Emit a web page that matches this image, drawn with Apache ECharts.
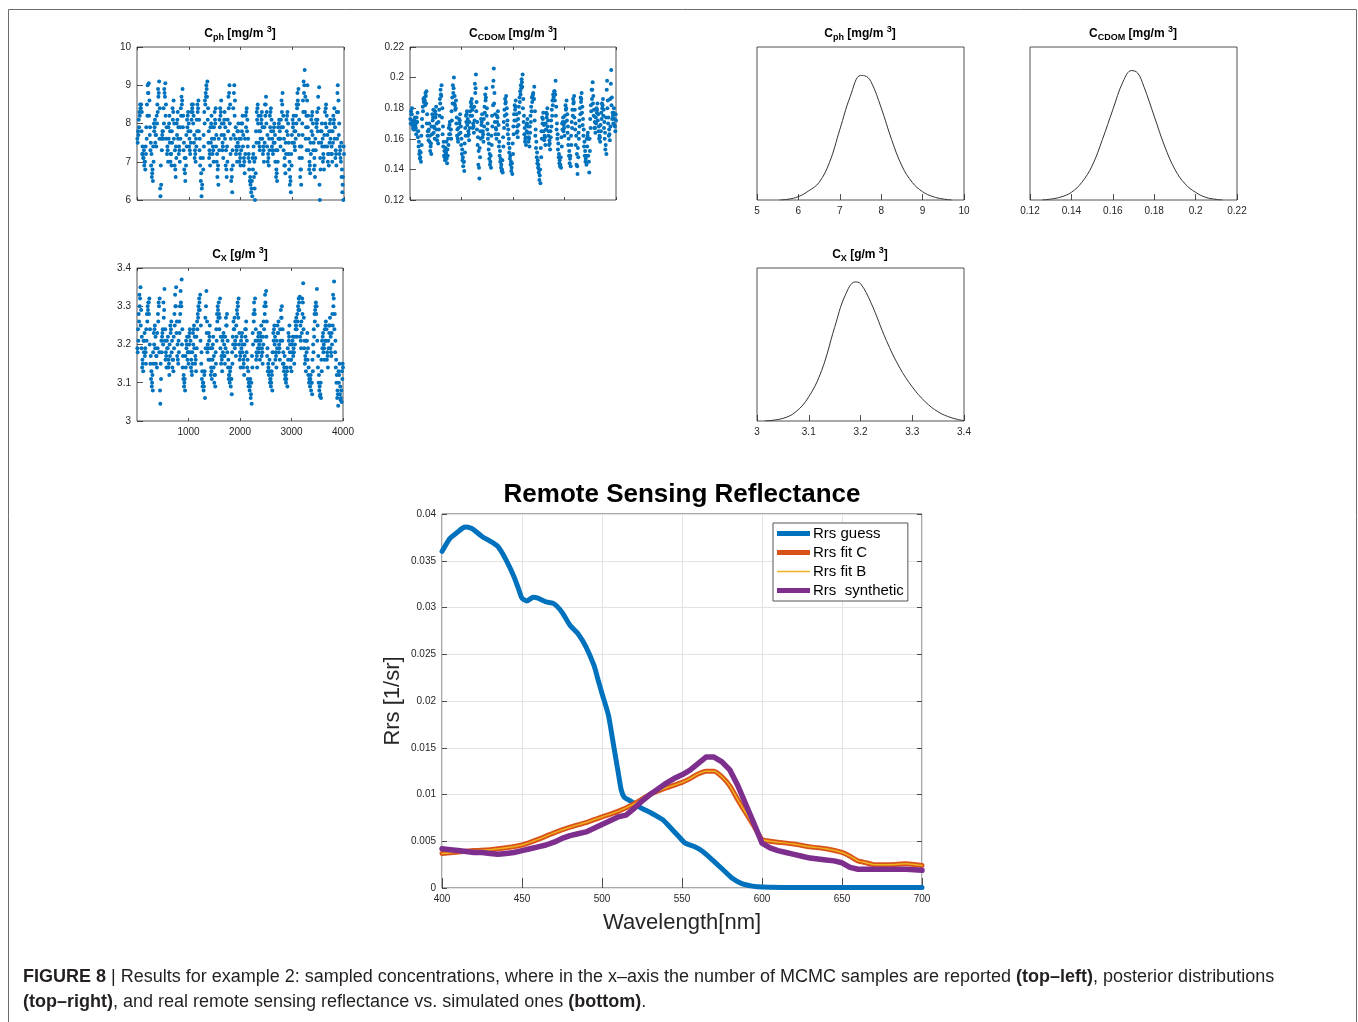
<!DOCTYPE html>
<html>
<head>
<meta charset="utf-8">
<script src="https://cdn.jsdelivr.net/npm/echarts@6/dist/echarts.min.js"></script>
<style>html,body{margin:0;padding:0;background:#fff}#chart{width:1358px;height:1022px}</style>
</head>
<body>
<div id="chart"></div>
<script>
// ---------------- MCMC samples (two interleaved readings, ~600 of the 4000) ----------------
var nSamples = 4000;
var cphSamples = [
 7.5,7.7,7.9,8.2,8.4,8.5,8.3,7.4,7.1,7.3, 7.0,6.8,7.2,7.6,8.2,8.8,9.05,8.6,7.9,7.5,
 7.2,6.7,6.5,7.0,7.8,8.1,7.7,7.4,8.0,8.3, 8.7,9.1,8.4,6.1,6.4,7.3,7.8,7.6,8.0,8.8,
 9.05,8.5,7.9,7.4,7.0,7.6,8.2,7.8,7.2,6.9, 7.5,8.1,8.6,8.0,7.3,6.6,7.1,7.7,8.3,7.9,
 7.4,7.0,7.6,8.2,8.5,8.9,8.2,7.5,7.1,6.5, 6.9,7.4,7.9,8.3,8.0,7.6,7.2,7.5,8.1,8.4,
 8.5,8.2,7.7,7.3,7.0,7.4,7.8,8.3,8.6,8.1, 7.6,7.1,6.7,6.3,5.9,6.8,7.4,8.0,8.5,8.7,
 8.9,9.1,8.4,7.8,7.3,6.9,7.5,8.2,7.9,7.4, 7.0,7.6,8.1,8.4,7.7,7.2,6.8,6.4,7.3,7.9,
 8.2,8.6,8.0,7.5,7.1,7.7,8.3,7.9,7.3,6.6, 7.0,7.8,8.4,9.0,8.5,7.6,6.8,6.2,6.9,7.7,
 9.0,8.6,7.9,7.4,7.0,7.5,8.0,7.6,7.2,6.9, 7.3,7.8,8.2,7.7,7.1,6.7,7.2,7.9,8.4,8.1,
 7.6,7.2,7.0,6.6,6.5,6.3,6.1,6.8,7.4,7.0, 6.0,6.7,7.5,8.1,8.5,8.2,7.8,7.3,7.6,8.0,
 8.3,7.9,7.4,7.0,7.5,8.2,8.7,8.3,7.7,7.2, 6.9,7.3,7.9,8.4,8.1,7.6,7.2,7.5,8.0,7.7,
 7.3,6.8,6.5,7.0,7.6,8.1,7.8,7.4,7.9,8.3, 8.8,8.2,7.6,7.1,6.7,7.2,7.8,8.3,8.0,7.5,
 7.0,6.6,6.2,6.9,7.5,7.9,8.2,7.8,7.3,7.6, 8.0,8.4,8.6,8.9,8.1,7.4,6.8,6.4,7.1,7.7,
 8.3,8.8,9.4,8.7,7.9,7.3,9.0,8.2,7.6,7.0, 6.7,7.2,7.8,8.3,8.0,7.5,7.1,6.6,7.3,7.9,
 8.3,7.8,8.4,8.95,6.0,6.8,7.5,8.0,7.6,7.2, 6.8,7.4,8.0,8.5,8.2,7.7,7.2,6.9,7.5,8.1,
 7.8,7.4,7.0,7.5,8.0,8.4,7.9,7.3,6.9,7.6, 9.0,8.6,8.0,7.4,7.1,7.5,6.8,6.4,6.0,7.2
];
var cphSamples2 = [
 7.6,7.8,8.1,8.3,8.5,8.4,7.8,7.2,7.2,7.1, 6.9,7.0,7.4,7.9,8.5,9.0,8.8,8.2,7.7,7.3,
 6.9,6.6,6.8,7.4,8.0,7.9,7.5,7.7,8.2,8.5, 8.9,8.8,7.6,6.3,6.9,7.6,7.7,7.8,8.4,8.9,
 8.7,8.2,7.6,7.2,7.3,7.9,8.0,7.5,7.0,7.2, 7.8,8.4,8.3,7.6,6.9,6.8,7.4,8.0,8.1,7.6,
 7.2,7.3,7.9,8.4,8.7,8.6,7.9,7.3,6.8,6.7, 7.1,7.7,8.1,8.2,7.8,7.4,7.3,7.8,8.3,8.5,
 8.3,8.0,7.5,7.1,7.2,7.6,8.1,8.5,8.4,7.8, 7.3,6.9,6.5,6.1,6.4,7.1,7.7,8.3,8.6,8.8,
 9.0,8.7,8.1,7.5,7.1,7.2,7.9,8.0,7.6,7.2, 7.3,7.9,8.3,8.0,7.4,7.0,6.6,6.9,7.6,8.1,
 8.4,8.3,7.7,7.3,7.4,8.0,8.1,7.6,6.9,6.8, 7.4,8.1,8.7,8.8,8.0,7.2,6.5,6.6,7.3,8.4,
 8.8,8.2,7.6,7.2,7.3,7.8,7.8,7.4,7.0,7.1, 7.6,8.0,8.0,7.4,6.9,7.0,7.6,8.2,8.3,7.8,
 7.4,7.1,6.8,6.5,6.4,6.2,6.5,7.1,7.2,6.6, 6.3,7.1,7.8,8.3,8.4,8.0,7.5,7.4,7.8,8.2,
 8.1,7.6,7.2,7.3,7.9,8.5,8.5,8.0,7.4,7.0, 7.1,7.6,8.2,8.3,7.8,7.4,7.3,7.8,7.9,7.5,
 7.0,6.6,6.7,7.3,7.9,8.0,7.6,7.6,8.1,8.6, 8.5,7.9,7.3,6.9,6.9,7.5,8.1,8.2,7.7,7.2,
 6.8,6.4,6.5,7.2,7.7,8.1,8.0,7.5,7.4,7.8, 8.2,8.5,8.8,8.5,7.7,7.1,6.6,6.8,7.4,8.0,
 8.6,9.1,9.0,8.3,7.6,8.2,8.6,7.9,7.3,6.8, 6.9,7.5,8.1,8.2,7.7,7.3,6.8,6.9,7.6,8.1,
 8.0,8.1,8.7,7.5,6.4,7.1,7.8,7.8,7.4,7.0, 7.1,7.7,8.3,8.4,7.9,7.4,7.0,7.2,7.8,8.0,
 7.6,7.2,7.2,7.8,8.2,8.1,7.6,7.1,7.2,8.3, 8.8,8.3,7.7,7.2,7.3,7.0,6.6,6.2,6.6,7.4
];
var cdomSamples = [
 0.170,0.176,0.180,0.172,0.166,0.168,0.174,0.169,0.163,0.171, 0.177,0.165,0.158,0.152,0.148,0.145,0.156,0.168,0.178,0.184,
 0.187,0.182,0.188,0.191,0.176,0.165,0.159,0.170,0.162,0.155, 0.150,0.163,0.172,0.179,0.168,0.160,0.174,0.181,0.170,0.162,
 0.157,0.166,0.175,0.183,0.189,0.195,0.180,0.168,0.158,0.152, 0.146,0.150,0.158,0.144,0.149,0.156,0.163,0.171,0.166,0.160,
 0.172,0.183,0.190,0.200,0.188,0.179,0.185,0.174,0.166,0.158, 0.163,0.170,0.176,0.168,0.160,0.153,0.148,0.145,0.139,0.151,
 0.162,0.171,0.178,0.173,0.165,0.159,0.167,0.175,0.181,0.186, 0.179,0.170,0.164,0.172,0.190,0.202,0.184,0.171,0.161,0.152,
 0.134,0.148,0.160,0.169,0.176,0.165,0.158,0.168,0.177,0.185, 0.193,0.180,0.170,0.163,0.157,0.150,0.145,0.141,0.156,0.168,
 0.182,0.206,0.190,0.176,0.167,0.160,0.171,0.178,0.169,0.158, 0.152,0.147,0.143,0.140,0.138,0.155,0.167,0.175,0.183,0.188,
 0.180,0.172,0.166,0.160,0.154,0.149,0.145,0.141,0.137,0.150, 0.163,0.172,0.179,0.185,0.176,0.168,0.161,0.169,0.177,0.184,
 0.189,0.193,0.197,0.202,0.186,0.175,0.167,0.160,0.156,0.165, 0.173,0.168,0.161,0.155,0.164,0.171,0.178,0.184,0.189,0.186,
 0.194,0.178,0.166,0.158,0.151,0.146,0.143,0.140,0.136,0.131, 0.148,0.160,0.170,0.177,0.169,0.162,0.156,0.166,0.174,0.180,
 0.172,0.165,0.159,0.153,0.161,0.168,0.175,0.182,0.187,0.191, 0.185,0.198,0.181,0.170,0.163,0.157,0.150,0.146,0.143,0.141,
 0.155,0.166,0.174,0.169,0.162,0.171,0.179,0.185,0.176,0.168, 0.160,0.152,0.147,0.142,0.156,0.167,0.175,0.183,0.188,0.179,
 0.170,0.162,0.150,0.137,0.148,0.160,0.168,0.176,0.184,0.190, 0.181,0.173,0.166,0.158,0.152,0.147,0.143,0.155,0.164,0.160,
 0.138,0.152,0.167,0.178,0.186,0.197,0.188,0.179,0.171,0.164, 0.170,0.177,0.183,0.176,0.168,0.162,0.158,0.165,0.173,0.180,
 0.186,0.179,0.171,0.164,0.156,0.150,0.198,0.185,0.174,0.166, 0.159,0.168,0.205,0.187,0.177,0.170,0.180,0.173,0.165,0.172
];
var cdomSamples2 = [
 0.173,0.178,0.176,0.169,0.167,0.171,0.172,0.166,0.167,0.174, 0.171,0.161,0.155,0.150,0.147,0.151,0.162,0.173,0.181,0.186,
 0.185,0.185,0.190,0.183,0.170,0.162,0.165,0.166,0.158,0.152, 0.157,0.168,0.176,0.174,0.164,0.167,0.178,0.176,0.166,0.159,
 0.162,0.171,0.179,0.186,0.192,0.188,0.174,0.163,0.155,0.149, 0.148,0.154,0.151,0.147,0.153,0.160,0.167,0.169,0.163,0.166,
 0.178,0.187,0.195,0.193,0.183,0.182,0.180,0.170,0.162,0.160, 0.167,0.173,0.172,0.164,0.156,0.150,0.146,0.142,0.145,0.157,
 0.167,0.175,0.176,0.169,0.162,0.163,0.171,0.178,0.184,0.183, 0.175,0.167,0.168,0.181,0.196,0.193,0.178,0.166,0.156,0.143,
 0.141,0.154,0.165,0.173,0.171,0.161,0.163,0.173,0.181,0.189, 0.187,0.175,0.166,0.160,0.153,0.147,0.143,0.149,0.162,0.175,
 0.194,0.198,0.183,0.171,0.163,0.166,0.175,0.174,0.163,0.155, 0.149,0.145,0.141,0.139,0.146,0.161,0.171,0.179,0.186,0.184,
 0.176,0.169,0.163,0.157,0.151,0.147,0.143,0.139,0.144,0.157, 0.168,0.176,0.182,0.181,0.172,0.164,0.165,0.173,0.181,0.187,
 0.191,0.195,0.199,0.194,0.180,0.171,0.163,0.158,0.161,0.169, 0.170,0.164,0.158,0.160,0.168,0.175,0.181,0.187,0.188,0.190,
 0.186,0.172,0.162,0.154,0.148,0.144,0.141,0.138,0.133,0.140, 0.154,0.165,0.174,0.173,0.165,0.159,0.161,0.170,0.177,0.176,
 0.168,0.162,0.156,0.157,0.165,0.172,0.179,0.185,0.189,0.188, 0.191,0.189,0.175,0.166,0.160,0.153,0.148,0.144,0.142,0.148,
 0.161,0.170,0.171,0.165,0.167,0.175,0.182,0.180,0.172,0.164, 0.156,0.149,0.144,0.149,0.162,0.171,0.179,0.186,0.184,0.174,
 0.166,0.156,0.143,0.142,0.154,0.164,0.172,0.180,0.187,0.186, 0.177,0.169,0.162,0.155,0.149,0.145,0.149,0.160,0.162,0.149,
 0.145,0.160,0.173,0.182,0.192,0.192,0.183,0.175,0.167,0.167, 0.174,0.180,0.179,0.172,0.165,0.160,0.161,0.169,0.177,0.183,
 0.182,0.175,0.167,0.160,0.153,0.174,0.192,0.180,0.170,0.162, 0.163,0.186,0.196,0.182,0.173,0.175,0.177,0.169,0.168,0.176
];
var cxSamples = [
 3.18,3.21,3.26,3.30,3.35,3.29,3.22,3.16,3.13,3.18, 3.23,3.19,3.15,3.21,3.26,3.29,3.31,3.32,3.24,3.17,
 3.13,3.10,3.08,3.15,3.20,3.25,3.22,3.17,3.14,3.19, 3.26,3.30,3.32,3.045,3.11,3.18,3.23,3.20,3.27,3.345,
 3.24,3.18,3.14,3.19,3.22,3.16,3.12,3.17,3.23,3.26, 3.21,3.16,3.13,3.19,3.25,3.30,3.35,3.26,3.20,3.15,
 3.18,3.23,3.28,3.31,3.37,3.24,3.17,3.12,3.10,3.08, 3.14,3.19,3.22,3.18,3.15,3.20,3.24,3.21,3.16,3.12,
 3.15,3.20,3.25,3.22,3.17,3.13,3.19,3.24,3.27,3.29, 3.31,3.33,3.25,3.18,3.13,3.10,3.08,3.12,3.06,3.19,
 3.34,3.26,3.20,3.16,3.21,3.25,3.19,3.14,3.11,3.16, 3.22,3.17,3.12,3.09,3.15,3.21,3.26,3.29,3.31,3.24,
 3.32,3.22,3.17,3.13,3.18,3.23,3.20,3.15,3.19,3.25, 3.28,3.21,3.16,3.12,3.10,3.14,3.11,3.07,3.15,3.20,
 3.24,3.27,3.21,3.17,3.22,3.28,3.30,3.32,3.23,3.18, 3.14,3.19,3.23,3.20,3.16,3.12,3.17,3.22,3.26,3.21,
 3.16,3.13,3.10,3.08,3.11,3.07,3.045,3.14,3.20,3.26, 3.29,3.32,3.24,3.18,3.14,3.19,3.23,3.20,3.16,3.21,
 3.25,3.19,3.15,3.20,3.24,3.28,3.31,3.34,3.26,3.19, 3.15,3.12,3.16,3.11,3.09,3.13,3.08,3.15,3.21,3.25,
 3.22,3.18,3.14,3.19,3.23,3.26,3.20,3.16,3.21,3.27, 3.30,3.24,3.18,3.13,3.17,3.12,3.10,3.14,3.09,3.16,
 3.21,3.25,3.20,3.16,3.13,3.18,3.22,3.19,3.15,3.20, 3.24,3.27,3.22,3.26,3.29,3.31,3.325,3.25,3.19,3.23,
 3.28,3.36,3.27,3.21,3.17,3.13,3.18,3.23,3.19,3.14, 3.11,3.09,3.12,3.10,3.07,3.13,3.18,3.22,3.26,3.30,
 3.28,3.345,3.25,3.17,3.12,3.09,3.07,3.06,3.13,3.19, 3.23,3.20,3.16,3.21,3.26,3.24,3.18,3.14,3.19,3.23,
 3.27,3.22,3.17,3.20,3.25,3.30,3.365,3.28,3.21,3.16, 3.12,3.08,3.04,3.10,3.15,3.09,3.06,3.05,3.11,3.14
];
var cxSamples2 = [
 3.19,3.24,3.28,3.33,3.32,3.25,3.19,3.14,3.15,3.21, 3.21,3.17,3.18,3.24,3.28,3.30,3.31,3.28,3.20,3.15,
 3.11,3.09,3.12,3.18,3.23,3.24,3.19,3.15,3.17,3.23, 3.28,3.31,3.18,3.08,3.15,3.21,3.22,3.24,3.31,3.29,
 3.21,3.16,3.17,3.21,3.19,3.14,3.15,3.20,3.25,3.24, 3.18,3.14,3.16,3.22,3.28,3.33,3.30,3.23,3.17,3.16,
 3.21,3.26,3.30,3.34,3.30,3.20,3.14,3.11,3.09,3.11, 3.17,3.21,3.20,3.16,3.18,3.22,3.23,3.18,3.14,3.13,
 3.18,3.23,3.24,3.19,3.15,3.16,3.22,3.26,3.28,3.30, 3.32,3.29,3.21,3.15,3.11,3.09,3.10,3.09,3.13,3.27,
 3.30,3.23,3.18,3.19,3.23,3.22,3.16,3.12,3.13,3.19, 3.20,3.14,3.10,3.12,3.18,3.24,3.28,3.30,3.27,3.28,
 3.27,3.19,3.15,3.16,3.21,3.22,3.17,3.17,3.22,3.27, 3.25,3.18,3.14,3.11,3.12,3.13,3.09,3.11,3.18,3.22,
 3.26,3.24,3.19,3.20,3.25,3.29,3.31,3.27,3.20,3.16, 3.17,3.21,3.22,3.18,3.14,3.15,3.20,3.24,3.24,3.18,
 3.14,3.11,3.09,3.10,3.09,3.06,3.10,3.17,3.23,3.28, 3.31,3.28,3.21,3.16,3.17,3.21,3.22,3.18,3.19,3.23,
 3.22,3.17,3.18,3.22,3.26,3.30,3.33,3.30,3.22,3.17, 3.13,3.14,3.13,3.10,3.11,3.10,3.12,3.18,3.23,3.24,
 3.20,3.16,3.17,3.21,3.25,3.23,3.18,3.19,3.24,3.29, 3.27,3.21,3.15,3.15,3.14,3.11,3.12,3.11,3.13,3.19,
 3.23,3.22,3.18,3.14,3.16,3.20,3.21,3.17,3.18,3.22, 3.26,3.25,3.24,3.28,3.30,3.32,3.29,3.22,3.21,3.26,
 3.32,3.31,3.24,3.19,3.15,3.16,3.21,3.21,3.16,3.12, 3.10,3.11,3.11,3.08,3.10,3.16,3.20,3.24,3.28,3.29,
 3.31,3.30,3.21,3.14,3.10,3.08,3.065,3.10,3.16,3.21, 3.22,3.18,3.19,3.24,3.25,3.21,3.16,3.17,3.21,3.25,
 3.25,3.19,3.18,3.23,3.28,3.33,3.32,3.24,3.18,3.14, 3.10,3.06,3.07,3.13,3.12,3.07,3.055,3.08,3.13,3.15
];

// ---------------- posterior densities (relative height) ----------------
var cphDensX = [5.55,5.75,6.0,6.25,6.5,6.75,7.0,7.25,7.5,7.6,7.75,8.0,8.25,8.5,8.75,9.0,9.25,9.5,9.7];
var cphDensY = [0,0.005,0.022,0.06,0.115,0.245,0.46,0.675,0.814,0.812,0.775,0.602,0.396,0.223,0.115,0.054,0.022,0.0065,0];
var cdomDensX = [0.126,0.13,0.135,0.14,0.145,0.15,0.155,0.16,0.165,0.169,0.172,0.175,0.18,0.185,0.19,0.195,0.2,0.205,0.21,0.213];
var cdomDensY = [0,0.006,0.02,0.05,0.115,0.223,0.396,0.59,0.775,0.846,0.83,0.742,0.548,0.353,0.2,0.104,0.05,0.017,0.004,0];
var cxDensX = [3.015,3.05,3.075,3.1,3.125,3.15,3.17,3.19,3.2,3.22,3.25,3.275,3.3,3.325,3.35,3.375,3.4];
var cxDensY = [0,0.017,0.06,0.158,0.331,0.612,0.818,0.909,0.898,0.775,0.526,0.353,0.223,0.126,0.06,0.022,0.002];

// ---------------- remote sensing reflectance ----------------
var guessWl = [400,405,410,413,415,418,420,425,430,435,440,445,448,450,453,457,460,465,470,475,480,485,490,495,497,500,504,507,510,512,514,518,524,531,538,542,548,552,558,563,569,576,581,587,594,600,620,650,700];
var guessRrs = [0.0360,0.0374,0.0381,0.0385,0.0386,0.0385,0.0383,0.0376,0.0371,0.0365,0.0351,0.0333,0.0319,0.0310,0.0307,0.0311,0.0310,0.0306,0.0304,0.0295,0.0281,0.0272,0.0258,0.0238,0.0226,0.0208,0.0185,0.0155,0.0125,0.0105,0.0097,0.0093,0.0086,0.0080,0.0073,0.0066,0.0055,0.0048,0.0044,0.0039,0.0030,0.0019,0.0011,0.0005,0.0002,0.0001,0.00005,0.00005,0.00005];
var fitWl = [400,410,420,430,440,450,460,470,480,490,500,510,520,530,540,550,555,560,565,570,575,580,585,590,595,600,605,610,620,630,640,650,655,660,665,670,680,690,700];
var fitC = [0.0037,0.00385,0.0040,0.0041,0.0043,0.0046,0.0052,0.0059,0.0065,0.0070,0.0076,0.0082,0.0090,0.0100,0.0107,0.0113,0.0117,0.0122,0.0125,0.0125,0.0119,0.0109,0.0094,0.0080,0.0066,0.0052,0.0050,0.0049,0.0047,0.0044,0.0042,0.0038,0.0034,0.0029,0.0027,0.0025,0.0025,0.0026,0.0024];
var fitB = [0.0037,0.00385,0.0040,0.0041,0.0043,0.0046,0.0052,0.0059,0.0065,0.0070,0.0076,0.0082,0.0090,0.0100,0.0107,0.0113,0.0117,0.0122,0.0125,0.0125,0.0119,0.0109,0.0094,0.0080,0.0066,0.0052,0.0050,0.0049,0.0047,0.0044,0.0042,0.0038,0.0034,0.0029,0.0027,0.0025,0.0025,0.0026,0.0024];
var synthWl = [400,405,410,415,420,425,430,435,440,445,450,455,460,465,470,475,480,485,490,495,500,505,510,515,520,525,530,535,540,545,550,555,560,565,570,575,580,585,590,595,600,605,610,615,620,625,630,635,640,645,650,655,660,665,670,680,690,700];
var synthRrs = [0.0042,0.0041,0.0040,0.0039,0.0038,0.0038,0.0037,0.0036,0.0037,0.0038,0.0040,0.0042,0.0044,0.0046,0.0049,0.0053,0.0056,0.0058,0.0060,0.0064,0.0068,0.0072,0.0076,0.0078,0.0085,0.0093,0.0100,0.0106,0.0112,0.0117,0.0121,0.0126,0.0133,0.0140,0.0140,0.0135,0.0126,0.0109,0.0089,0.0069,0.0048,0.0043,0.0040,0.0038,0.0036,0.0034,0.0032,0.0031,0.0030,0.0029,0.0027,0.0022,0.0020,0.0020,0.0020,0.0020,0.0020,0.0019];

var legendNames = ['Rrs guess', 'Rrs fit C', 'Rrs fit B', 'Rrs  synthetic'];

// ==============================================================
var myChart = echarts.init(document.getElementById('chart'));
var ink = '#262626';
var fontFam = '"Liberation Sans", Arial, Helvetica, sans-serif';

function pairs(xs, ys) {
    return xs.map(function (x, i) { return [x, ys[i]]; });
}
// first reading sits on full steps, second reading halfway between
function samplePairs(a, b) {
    var step = nSamples / a.length;
    var out = a.map(function (v, i) { return [Math.round((i + 1) * step), v]; });
    b.forEach(function (v, i) { out.push([Math.round((i + 0.5) * step), v]); });
    return out;
}

var grids = [
    { left: 137, top: 47, width: 207, height: 153 },
    { left: 410, top: 47, width: 206, height: 153 },
    { left: 137, top: 268, width: 206, height: 153 },
    { left: 757, top: 47, width: 207, height: 153 },
    { left: 1030, top: 47, width: 207, height: 153 },
    { left: 757, top: 268, width: 207, height: 153 },
    { left: 442, top: 514, width: 480, height: 374 }
];
grids.forEach(function (g) {
    g.show = true; g.borderColor = ink; g.borderWidth = 0.8; g.backgroundColor = 'transparent';
});

// ticks point into the box: the axis is pulled inside by the tick length
var xAxes = [], yAxes = [];
function addAxes(gi, xr, yr, o) {
    var tl = o.big ? 5 : 3;
    var base = function (r, pos, labels, ticks, split, minLabel) {
        return {
            type: 'value', gridIndex: gi, position: pos, offset: -tl,
            min: r[0], max: r[1], interval: r[2],
            axisLine: { show: false },
            axisTick: { show: ticks, length: tl, lineStyle: { color: ink, width: 0.8 } },
            axisLabel: {
                show: labels, color: ink, fontSize: 10, fontFamily: fontFam, margin: 6 + tl, showMinLabel: minLabel,
                formatter: function (v) { return String(v); }
            },
            splitLine: { show: split, lineStyle: { color: '#e3e3e3', width: 1 } }
        };
    };
    xAxes.push(base(xr, 'bottom', o.xLabels, true, !!o.big, o.xMin !== false));
    yAxes.push(base(yr, 'left', o.yLabels, o.yTicks !== false, !!o.big, true));
    xAxes.push(base(xr, 'top', false, true, false, true));
    yAxes.push(base(yr, 'right', false, o.yTicks !== false, false, true));
}
addAxes(0, [0, 4000, 1000], [6, 10, 1], { xLabels: false, yLabels: true });
addAxes(1, [0, 4000, 1000], [0.12, 0.22, 0.02], { xLabels: false, yLabels: true });
addAxes(2, [0, 4000, 1000], [3, 3.4, 0.1], { xLabels: true, yLabels: true, xMin: false });
addAxes(3, [5, 10, 1], [0, 1, 0.5], { xLabels: true, yLabels: false, yTicks: false });
addAxes(4, [0.12, 0.22, 0.02], [0, 1, 0.5], { xLabels: true, yLabels: false, yTicks: false });
addAxes(5, [3, 3.4, 0.1], [0, 1, 0.5], { xLabels: true, yLabels: false, yTicks: false });
addAxes(6, [400, 700, 50], [0, 0.04, 0.005], { xLabels: true, yLabels: true, big: true });

// axis names of the big plot
xAxes[12].name = 'Wavelength[nm]';
xAxes[12].nameLocation = 'middle';
xAxes[12].nameGap = 29;
xAxes[12].nameTextStyle = { color: ink, fontSize: 22, fontFamily: fontFam };
yAxes[12].name = 'Rrs [1/sr]';
yAxes[12].nameLocation = 'middle';
yAxes[12].nameGap = 43;
yAxes[12].nameTextStyle = { color: ink, fontSize: 22, fontFamily: fontFam };

function scatter(ai, a, b) {
    return {
        type: 'scatter', xAxisIndex: ai, yAxisIndex: ai, data: samplePairs(a, b),
        symbolSize: 4, itemStyle: { color: '#0072BD', opacity: 1 }, silent: true
    };
}
function density(ai, xs, ys) {
    return {
        type: 'line', xAxisIndex: ai, yAxisIndex: ai, data: pairs(xs, ys), smooth: 0.4,
        symbol: 'none', lineStyle: { color: '#333', width: 1 }, silent: true
    };
}
function rrs(name, xs, ys, color, width, smooth) {
    return {
        name: name, type: 'line', xAxisIndex: 12, yAxisIndex: 12, data: pairs(xs, ys),
        symbol: 'none', smooth: smooth, itemStyle: { color: color },
        lineStyle: { color: color, width: width, cap: 'round', join: 'round' }
    };
}

var series = [
    scatter(0, cphSamples, cphSamples2),
    scatter(2, cdomSamples, cdomSamples2),
    scatter(4, cxSamples, cxSamples2),
    density(6, cphDensX, cphDensY),
    density(8, cdomDensX, cdomDensY),
    density(10, cxDensX, cxDensY),
    rrs(legendNames[0], guessWl, guessRrs, '#0072BD', 5, 0.2),
    rrs(legendNames[1], fitWl, fitC, '#D95319', 5, 0.2),
    rrs(legendNames[2], fitWl, fitB, '#EDB120', 1.5, 0.2),
    rrs(legendNames[3], synthWl, synthRrs, '#7E2F8E', 5.5, false)
];

var thickIcon = 'path://M0,0H33V5H0Z';
var thinIcon = 'path://M0,0H33V1.6H0Z';
var legendIcons = [thickIcon, thickIcon, thinIcon, thickIcon];

// panel titles with sub/superscripts
var titleRich = {
    m: { fontSize: 12, fontWeight: 'bold', fontFamily: fontFam, color: '#000' },
    s: { fontSize: 9, fontWeight: 'bold', fontFamily: fontFam, color: '#000', padding: [8, 0, 0, 0] },
    p: { fontSize: 9, fontWeight: 'bold', fontFamily: fontFam, color: '#000', padding: [0, 0, 8, 0] }
};
function panelTitle(x, y, sub, unit) {
    return {
        type: 'text', x: x, y: y, silent: true,
        style: {
            text: '{m|C}{s|' + sub + '}{m| [' + unit + ' }{p|3}{m|]}',
            rich: titleRich, align: 'center', verticalAlign: 'middle',
            textAlign: 'center', textVerticalAlign: 'middle'
        }
    };
}
var capRich = { b: { fontWeight: 'bold', fontSize: 18, fontFamily: fontFam, color: '#231f20' } };
function captionLine(y, text) {
    return {
        type: 'text', x: 23, y: y, silent: true,
        style: {
            text: text, rich: capRich, fontSize: 18, fontFamily: fontFam, fill: '#231f20',
            align: 'left', verticalAlign: 'middle', textAlign: 'left', textVerticalAlign: 'middle'
        }
    };
}

option = {
    backgroundColor: '#fff',
    animation: false,
    grid: grids,
    xAxis: xAxes,
    yAxis: yAxes,
    legend: {
        data: legendNames.map(function (n, i) { return { name: n, icon: legendIcons[i] }; }),
        orient: 'vertical',
        left: 773, top: 523,
        padding: [3, 4, 3, 4],
        itemWidth: 33, itemHeight: 14, itemGap: 4,
        symbolKeepAspect: true,
        backgroundColor: '#fff', borderColor: '#555', borderWidth: 1, borderRadius: 0,
        textStyle: { color: '#000', fontSize: 15, fontFamily: fontFam, padding: [0, 0, 0, -2] },
        selectedMode: false
    },
    series: series,
    graphic: [
        {
            type: 'rect', silent: true, z: -10,
            shape: { x: 8.5, y: 9.5, width: 1348, height: 1030 },
            style: { fill: 'none', stroke: '#6b6b6b', lineWidth: 1 }
        },
        panelTitle(240, 34, 'ph', 'mg/m'),
        panelTitle(513, 34, 'CDOM', 'mg/m'),
        panelTitle(240, 255, 'X', 'g/m'),
        panelTitle(860, 34, 'ph', 'mg/m'),
        panelTitle(1133, 34, 'CDOM', 'mg/m'),
        panelTitle(860, 255, 'X', 'g/m'),
        {
            type: 'text', x: 682, y: 495, silent: true,
            style: {
                text: 'Remote Sensing Reflectance', fontSize: 26, fontWeight: 'bold', fontFamily: fontFam, fill: '#000',
                align: 'center', verticalAlign: 'middle', textAlign: 'center', textVerticalAlign: 'middle'
            }
        },
        captionLine(977, '{b|FIGURE 8} | Results for example 2: sampled concentrations, where in the x\u2013axis the number of MCMC samples are reported {b|(top\u2013left)}, posterior distributions'),
        captionLine(1002, '{b|(top\u2013right)}, and real remote sensing reflectance vs. simulated ones {b|(bottom)}.')
    ]
};

myChart.setOption(option, true);
</script>
</body>
</html>
